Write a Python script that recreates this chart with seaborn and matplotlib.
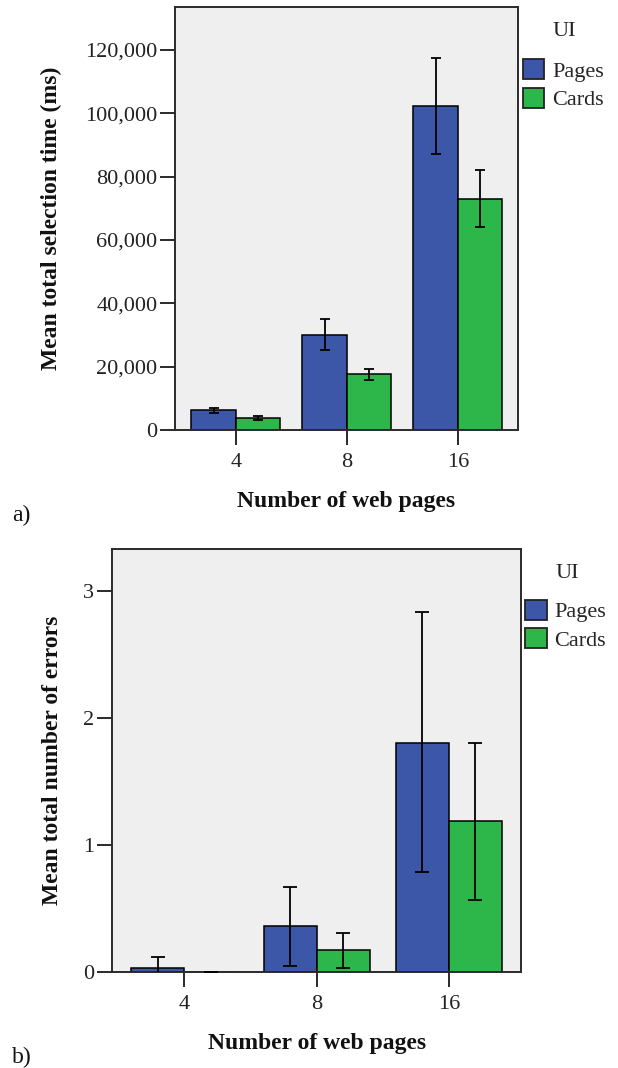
import matplotlib
matplotlib.use("Agg")
import matplotlib.pyplot as plt
from matplotlib.patches import Patch
from matplotlib.ticker import FuncFormatter
import seaborn as sns
import pandas as pd
import numpy as np

# ---------------- data ----------------
pages = ["4", "8", "16"]
ui_levels = ["Pages", "Cards"]

time_pages = [6200, 30100, 102300]
time_cards = [3700, 17700, 73000]
time_pages_lo = [5500, 25300, 87200]
time_pages_hi = [6900, 34900, 117400]
time_cards_lo = [3100, 15800, 64000]
time_cards_hi = [4400, 19200, 82100]

err_pages = [0.032, 0.357, 1.804]
err_cards = [0.0, 0.173, 1.187]
err_pages_lo = [-0.05, 0.046, 0.787]
err_pages_hi = [0.114, 0.665, 2.832]
err_cards_lo = [0.0, 0.032, 0.568]
err_cards_hi = [0.0, 0.303, 1.799]

time_ticks = [0, 20000, 40000, 60000, 80000, 100000, 120000]
err_ticks = [0, 1, 2, 3]

BLUE = "#3c56a8"
GREEN = "#2db64a"
BG = "#efefef"
SPINE = "#2a2a2a"

sns.set_style("ticks")
plt.rcParams["font.family"] = ["Liberation Serif", "DejaVu Serif"]

W, H = 618, 1068
fig = plt.figure(figsize=(W / 100, H / 100), dpi=100)


def axes_rect(left, right, top, bottom):
    return [left / W, 1 - bottom / H, (right - left) / W, (bottom - top) / H]


def panel(ax, means_p, means_c, lo_p, hi_p, lo_c, hi_c, ymax, ticks, fmt,
          ylabel, capsize, leg_xy, ui_xy):
    df = pd.DataFrame({
        "pages": pages * 2,
        "UI": [ui_levels[0]] * 3 + [ui_levels[1]] * 3,
        "value": list(means_p) + list(means_c),
    })
    sns.barplot(data=df, x="pages", y="value", hue="UI", order=pages,
                hue_order=ui_levels, palette=[BLUE, GREEN], errorbar=None,
                width=0.8, edgecolor="black", linewidth=1.1, saturation=1,
                legend=False, ax=ax)
    for cont, m, lo, hi in zip(ax.containers,
                               [means_p, means_c], [lo_p, lo_c], [hi_p, hi_c]):
        xs = [b.get_x() + b.get_width() / 2 for b in cont]
        m = np.asarray(m, float)
        lo = np.asarray(lo, float)
        hi = np.asarray(hi, float)
        ax.errorbar(xs, m, yerr=[m - lo, hi - m], fmt="none", ecolor="black",
                    elinewidth=1.3, capsize=capsize, capthick=1.3, zorder=5)
    ax.set_facecolor(BG)
    ax.set_xlim(-0.545, 2.545)
    ax.set_ylim(0, ymax)
    ax.set_yticks(ticks)
    ax.yaxis.set_major_formatter(FuncFormatter(fmt))
    for s in ax.spines.values():
        s.set_visible(True)
        s.set_color(SPINE)
        s.set_linewidth(1.4)
    ax.tick_params(axis="both", direction="out", length=11, width=1.4,
                   color=SPINE, labelsize=16, labelcolor="#222222", pad=2)
    ax.tick_params(axis="x", pad=5.5)
    ax.set_ylabel(ylabel, fontsize=17, fontweight="bold", color="#111111")
    ax.set_xlabel("Number of web pages", fontsize=17, fontweight="bold",
                  color="#111111")
    handles = [Patch(facecolor=BLUE, edgecolor="#222222", linewidth=1.3),
               Patch(facecolor=GREEN, edgecolor="#222222", linewidth=1.3)]
    ax.legend(handles, ui_levels, loc="upper left",
              bbox_to_anchor=(leg_xy[0] / W, 1 - leg_xy[1] / H),
              bbox_transform=fig.transFigure, frameon=False, borderpad=0,
              borderaxespad=0, handlelength=0.95, handleheight=1.0,
              handletextpad=0.36, labelspacing=0.28, fontsize=16)
    fig.text(ui_xy[0] / W, 1 - ui_xy[1] / H, "UI", fontsize=16,
             ha="center", va="center", color="#222222")


# ---------------- panel a ----------------
ax1 = fig.add_axes(axes_rect(175.4, 518.3, 6.8, 430.0))
panel(ax1, time_pages, time_cards, time_pages_lo, time_pages_hi,
      time_cards_lo, time_cards_hi, 133650, time_ticks,
      lambda v, p: f"{v:,.0f}", "Mean total selection time (ms)", 3.3,
      (523, 59), (564, 32))
ax1.yaxis.set_label_coords((51 - 175.4) / (518.3 - 175.4), 0.5)
ax1.yaxis.label.set_verticalalignment("center")
ax1.xaxis.set_label_coords(0.4975, (430 - 502) / (430 - 6.8))
ax1.xaxis.label.set_verticalalignment("center")

# ---------------- panel b ----------------
ax2 = fig.add_axes(axes_rect(112.3, 521.0, 548.9, 971.7))
panel(ax2, err_pages, err_cards, err_pages_lo, err_pages_hi,
      err_cards_lo, err_cards_hi, 3.332, err_ticks,
      lambda v, p: f"{v:.0f}", "Mean total number of errors", 5,
      (525.4, 599.7), (567.5, 573))
ax2.yaxis.set_label_coords((53 - 112.3) / (521 - 112.3), 0.499)
ax2.yaxis.label.set_verticalalignment("center")
ax2.xaxis.set_label_coords(0.501, (971.7 - 1043.7) / (971.7 - 548.9))
ax2.xaxis.label.set_verticalalignment("center")

fig.text(12 / W, 1 - 515 / H, "a)", fontsize=17, ha="left", va="center",
         color="#111111")
fig.text(12 / W, 1 - 1057 / H, "b)", fontsize=17, ha="left", va="center",
         color="#111111")

fig.savefig("out.png", dpi=100)
